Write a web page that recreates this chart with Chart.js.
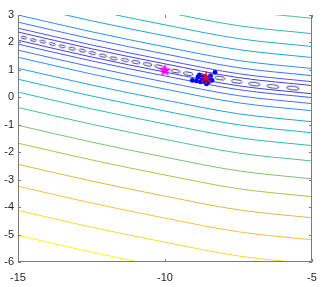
<!DOCTYPE html>
<html>
<head>
<meta charset="utf-8">
<script src="https://cdn.jsdelivr.net/npm/chart.js@4.4.1/dist/chart.umd.min.js"></script>
<style>
  html, body { margin: 0; padding: 0; background: #fff; }
  #wrap { width: 327px; height: 287px; }
</style>
</head>
<body>
<div id="wrap"><canvas id="chart" width="327" height="287"></canvas></div>
<script>
const sampleX = [-15, -12.5, -10, -7.5, -5];

// contour lines below the valley, nearest first
const linesBelow = [
  [2.08, 1.47, 0.92, 0.42, 0.13],
  [1.94, 1.33, 0.78, 0.28, -0.01],
  [1.72, 1.11, 0.56, 0.06, -0.23],
  [1.46, 0.85, 0.30, -0.20, -0.49],
  [1.06, 0.45, -0.10, -0.60, -0.89],
  [0.66, 0.05, -0.50, -1.00, -1.29],
  [0.19, -0.42, -0.97, -1.47, -1.76],
  [-0.37, -0.98, -1.53, -2.03, -2.32],
  [-1.02, -1.63, -2.18, -2.68, -2.97],
  [-1.67, -2.28, -2.83, -3.33, -3.62],
  [-2.44, -3.05, -3.60, -4.10, -4.39],
  [-3.24, -3.85, -4.40, -4.90, -5.19],
  [-4.12, -4.73, -5.28, -5.78, -6.07],
  [-5.03, -5.64, -6.19, -6.69, -6.98]
];

// contour lines above the valley, nearest first
const linesAbove = [
  [2.38, 1.77, 1.22, 0.72, 0.43],
  [2.52, 1.91, 1.36, 0.86, 0.57],
  [2.74, 2.13, 1.58, 1.08, 0.79],
  [3.00, 2.39, 1.84, 1.34, 1.05],
  [3.40, 2.79, 2.24, 1.74, 1.45],
  [3.80, 3.19, 2.64, 2.14, 1.85],
  [4.27, 3.66, 3.11, 2.61, 2.32],
  [4.83, 4.22, 3.67, 3.17, 2.88]
];

// small closed contours along the valley floor
const ellipseX = [-14.80, -14.48, -14.16, -13.83, -13.50, -13.16, -12.81, -12.47, -12.11, -11.75,
                  -11.36, -10.99, -10.59, -10.20, -9.64, -9.21, -8.13, -7.56, -6.96, -6.33, -5.65];
const ellipseY = [2.175, 2.088, 2.029, 1.942, 1.858, 1.774, 1.701, 1.613, 1.518, 1.420,
                  1.358, 1.285, 1.201, 1.117, 0.956, 0.861, 0.701, 0.580, 0.482, 0.398, 0.336];

const startX = [-10];
const startY = [1];
const bestX = [-8.6];
const bestY = [0.715];
const runX = [-9.07, -8.93, -8.88, -8.83, -8.76, -8.71, -8.64, -8.59, -8.52, -8.49, -8.45, -8.40, -8.30, -8.79, -8.67, -8.57];
const runY = [0.617, 0.598, 0.745, 0.818, 0.726, 0.653, 0.580, 0.489, 0.562, 0.690, 0.781, 0.617, 0.909, 0.562, 0.763, 0.708];

const xTicks = [-15, -10, -5];
const yTicks = [-6, -5, -4, -3, -2, -1, 0, 1, 2, 3];

// parula-like colour map
const stops = [
  [0, '#3E26A8'], [0.1, '#4847EB'], [0.2, '#3E6FFF'], [0.3, '#2796EB'], [0.4, '#12B1D6'],
  [0.5, '#2EBCB0'], [0.6, '#5CC482'], [0.7, '#A6C24A'], [0.8, '#E5BB3A'], [0.875, '#FEC338'],
  [0.95, '#F5E52A'], [1, '#F9FB14']
];
function hex(h) { return [1, 3, 5].map(i => parseInt(h.substr(i, 2), 16)); }
function parula(t) {
  for (let i = 1; i < stops.length; i++) {
    if (t <= stops[i][0]) {
      const a = stops[i - 1], b = stops[i];
      const f = (t - a[0]) / (b[0] - a[0]);
      const ca = hex(a[1]), cb = hex(b[1]);
      const c = ca.map((v, j) => Math.round(v + (cb[j] - v) * f));
      return 'rgb(' + c.join(',') + ')';
    }
  }
  return stops[stops.length - 1][1];
}

function ellipseImg(w, h) {
  const c = document.createElement('canvas');
  c.width = Math.ceil(w) + 2;
  c.height = Math.ceil(h) + 2;
  const g = c.getContext('2d');
  g.strokeStyle = '#3f3f95';
  g.lineWidth = 1;
  g.beginPath();
  g.ellipse(c.width / 2, c.height / 2, w / 2, h / 2, 0, 0, Math.PI * 2);
  g.stroke();
  return c;
}

function pentagram(r, color) {
  const c = document.createElement('canvas');
  c.width = c.height = Math.ceil(r * 2) + 2;
  const g = c.getContext('2d');
  const cx = c.width / 2, cy = c.height / 2 + 0.6;
  g.fillStyle = color;
  g.beginPath();
  for (let i = 0; i < 10; i++) {
    const rr = i % 2 ? r * 0.45 : r;
    const a = -Math.PI / 2 + i * Math.PI / 5;
    const px = cx + rr * Math.cos(a), py = cy + rr * Math.sin(a);
    if (i) g.lineTo(px, py); else g.moveTo(px, py);
  }
  g.closePath();
  g.fill();
  return c;
}

const nLevels = linesBelow.length;
const datasets = [];

datasets.push({
  data: bestX.map((x, i) => ({ x: x, y: bestY[i] })),
  showLine: false, pointStyle: 'star', pointRadius: 6.5,
  borderColor: '#ff0000', pointBorderWidth: 1.3, backgroundColor: '#ff0000'
});
datasets.push({
  data: startX.map((x, i) => ({ x: x, y: startY[i] })),
  showLine: false, pointStyle: pentagram(6.5, '#ff00ff'), pointRadius: 6
});
datasets.push({
  data: runX.map((x, i) => ({ x: x, y: runY[i] })),
  showLine: false, pointStyle: 'circle', pointRadius: 2.4, pointBorderWidth: 0,
  backgroundColor: '#0000ff', borderColor: '#0000ff'
});
datasets.push({
  data: ellipseX.map((x, i) => ({ x: x, y: ellipseY[i] })),
  showLine: false,
  pointStyle: ctx => {
    const x = ellipseX[ctx.dataIndex];
    const f = (x + 15) / 10;
    return ellipseImg(5.5 + f * 7.5, 2.5 + f * 1.3);
  },
  rotation: ctx => 14 - (ellipseX[ctx.dataIndex] + 15) * 0.8,
  pointRadius: 4
});

function lineSet(ys, k) {
  return {
    data: sampleX.map((x, i) => ({ x: x, y: ys[i] })),
    showLine: true, borderColor: parula(k / nLevels), borderWidth: 1,
    pointRadius: 0, cubicInterpolationMode: 'monotone', fill: false
  };
}
linesBelow.forEach((ys, i) => datasets.push(lineSet(ys, i + 1)));
linesAbove.forEach((ys, i) => datasets.push(lineSet(ys, i + 1)));

const axisColor = '#7a7a7a';
const frame = {
  id: 'frame',
  afterDatasetsDraw(chart) {
    const { ctx, chartArea: a, scales } = chart;
    ctx.save();
    ctx.strokeStyle = axisColor;
    ctx.lineWidth = 1;
    ctx.beginPath();
    ctx.moveTo(a.left + 0.5, a.top);
    ctx.lineTo(a.left + 0.5, a.bottom - 0.5);
    ctx.lineTo(a.right - 0.5, a.bottom - 0.5);
    ctx.lineTo(a.right - 0.5, a.top);
    const t = 3;
    yTicks.forEach(v => {
      const y = Math.round(scales.y.getPixelForValue(v)) + 0.5;
      ctx.moveTo(a.left, y); ctx.lineTo(a.left + t, y);
      ctx.moveTo(a.right, y); ctx.lineTo(a.right - t, y);
    });
    xTicks.forEach(v => {
      const x = Math.round(scales.x.getPixelForValue(v)) + 0.5;
      ctx.moveTo(x, a.bottom); ctx.lineTo(x, a.bottom - t);
      ctx.moveTo(x, a.top); ctx.lineTo(x, a.top + t);
    });
    ctx.stroke();
    ctx.restore();
  }
};

const font = { family: '"Liberation Sans", Arial, Helvetica, sans-serif', size: 11 };

new Chart(document.getElementById('chart'), {
  type: 'scatter',
  data: { datasets: datasets },
  options: {
    responsive: false,
    animation: false,
    events: [],
    layout: { padding: { top: 15, right: 15, left: 0, bottom: 0 } },
    plugins: { legend: { display: false }, tooltip: { enabled: false } },
    scales: {
      x: {
        type: 'linear', min: -15, max: -5,
        afterBuildTicks: s => { s.ticks = xTicks.map(v => ({ value: v })); },
        afterFit: s => { s.height = 25; },
        grid: { display: false, drawTicks: false },
        border: { display: false },
        ticks: { font: font, color: '#262626', padding: 9, maxRotation: 0 }
      },
      y: {
        type: 'linear', min: -6, max: 3,
        afterBuildTicks: s => { s.ticks = yTicks.map(v => ({ value: v })); },
        afterFit: s => { s.width = 18; },
        grid: { display: false, drawTicks: false },
        border: { display: false },
        ticks: { font: font, color: '#262626', padding: 4 }
      }
    }
  },
  plugins: [frame]
});
</script>
</body>
</html>
